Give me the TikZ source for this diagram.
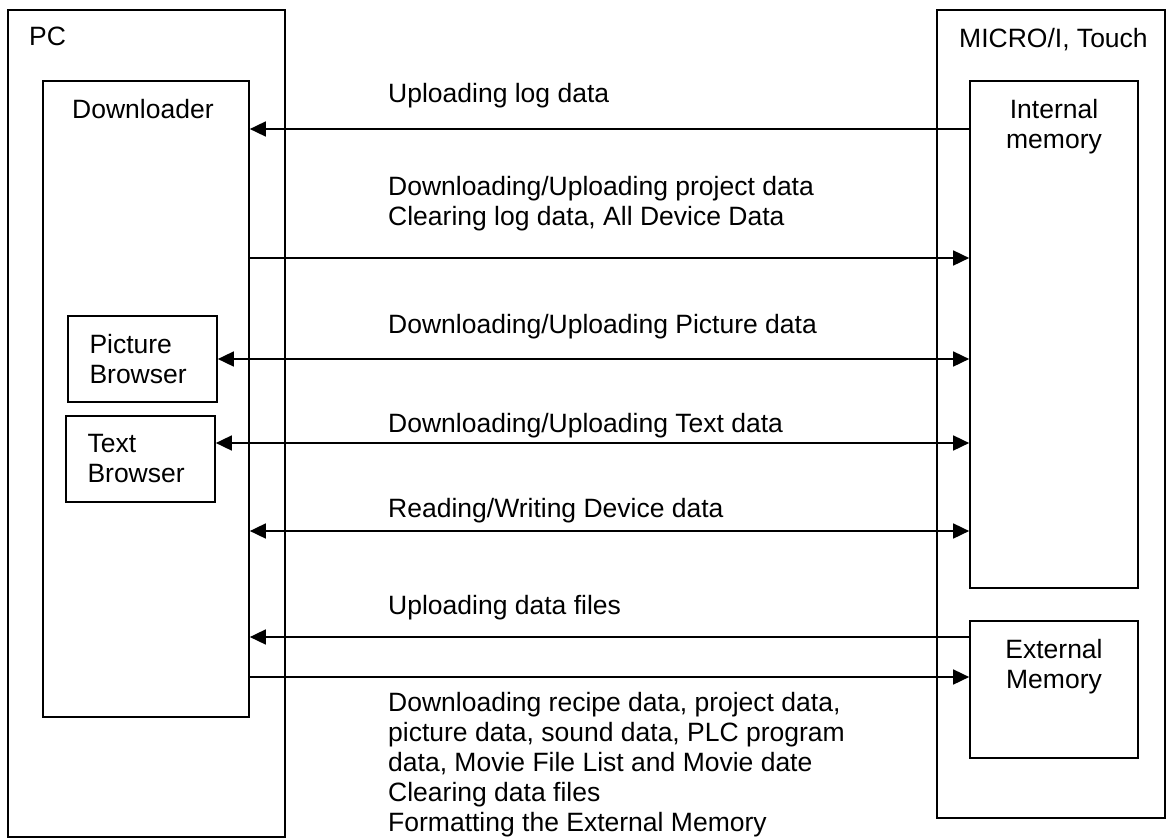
\documentclass[tikz,border=0pt]{standalone}
\usepackage{fontspec}
\setmainfont{Liberation Sans}
\usetikzlibrary{arrows.meta}

\begin{document}
\begin{tikzpicture}[x=1pt, y=-1pt, font=\fontsize{26.5}{30}\selectfont,
        box/.style={draw=black, line width=1.7pt, inner sep=0pt},
        txt/.style={inner sep=0pt},
        one/.style={line width=1.7pt, -{Triangle[length=16pt,width=15pt]}},
        two/.style={line width=1.7pt, {Triangle[length=16pt,width=15pt]}-{Triangle[length=16pt,width=15pt]}}]
        \useasboundingbox (0,0) rectangle (1167,838);

        % PC side
        \node[box, minimum width=277pt, minimum height=827pt] (pc) at (146.5,423.5) {};
        \node[txt, anchor=base west] (pctxt) at (29,45) {PC};
        \node[box, minimum width=206pt, minimum height=636pt] (dl) at (146,399) {};
        \node[txt, anchor=base west] (dltxt) at (72,118) {Downloader};
        \node[box, minimum width=149pt, minimum height=86pt, text width=106pt, align=left] (pb) at (142.5,359) {Picture\\Browser};
        \node[box, minimum width=149pt, minimum height=86pt, text width=106pt, align=left] (tb) at (140.5,459) {Text\\Browser};

        % MICRO/I side
        \node[box, minimum width=228pt, minimum height=808pt] (mi) at (1051,414) {};
        \node[txt, anchor=base west] (mitxt) at (959,47) {MICRO/I, Touch};
        \node[box, minimum width=168pt, minimum height=507pt] (im) at (1054,334.5) {};
        \node[txt, anchor=north, align=center] (imtxt) at (1054,99) {Internal\\memory};
        \node[box, minimum width=168pt, minimum height=137pt] (em) at (1054,689.5) {};
        \node[txt, anchor=north, align=center] (emtxt) at (1054,639) {External\\Memory};

        % rows of the arrows
        \coordinate (r1) at (0,129);
        \coordinate (r2) at (0,258);
        \coordinate (r3) at (0,359);
        \coordinate (r4) at (0,443);
        \coordinate (r5) at (0,531);
        \coordinate (r6) at (0,637);
        \coordinate (r7) at (0,677);

        \path [one] (im.west |- r1) edge (dl.east |- r1);
        \path [one] (dl.east |- r2) edge (im.west |- r2);
        \path [two] (pb.east |- r3) edge (im.west |- r3);
        \path [two] (tb.east |- r4) edge (im.west |- r4);
        \path [two] (dl.east |- r5) edge (im.west |- r5);
        \path [one] (em.west |- r6) edge (dl.east |- r6);
        \path [one] (dl.east |- r7) edge (em.west |- r7);

        % labels
        \node[txt, anchor=base west] (up1) at (388,102) {Uploading log data};
        \node[txt, anchor=north west, align=left] (dn1) at (388,176) {Downloading/Uploading project data\\Clearing log data, All Device Data};
        \node[txt, anchor=base west] (pic) at (388,333) {Downloading/Uploading Picture data};
        \node[txt, anchor=base west] (text) at (388,432) {Downloading/Uploading Text data};
        \node[txt, anchor=base west] (dev) at (388,517) {Reading/Writing Device data};
        \node[txt, anchor=base west] (up2) at (388,614) {Uploading data files};
        \node[txt, anchor=north west, align=left] (dn2) at (388,692) {Downloading recipe data, project data,\\picture data, sound data, PLC program\\data, Movie File List and Movie date\\Clearing data files\\Formatting the External Memory};
    \end{tikzpicture}
\end{document}
